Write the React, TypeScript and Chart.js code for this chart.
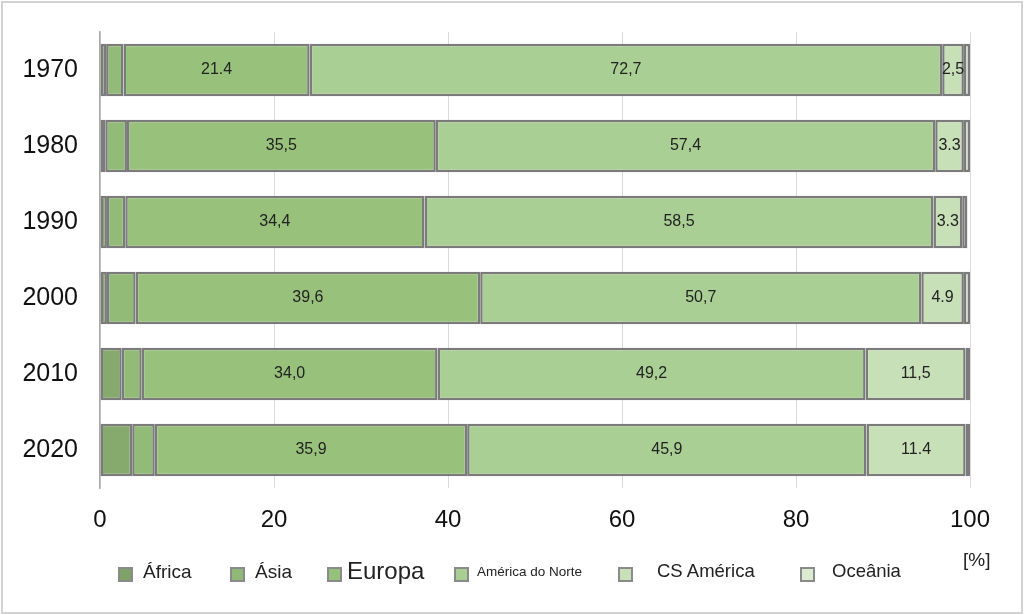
import { useEffect, useRef } from "react";
import { Chart, registerables } from "chart.js";

Chart.register(...registerables);

const years = ["1970", "1980", "1990", "2000", "2010", "2020"];
const regions = ["África", "Ásia", "Europa", "América do Norte", "CS América", "Oceânia"];

const africa = [0.7, 0.6, 0.8, 0.8, 2.5, 3.7];
const asia = [2.0, 2.5, 2.1, 3.3, 2.3, 2.6];
const europa = [21.4, 35.5, 34.4, 39.6, 34.0, 35.9];
const northAmerica = [72.7, 57.4, 58.5, 50.7, 49.2, 45.9];
const csAmerica = [2.5, 3.3, 3.3, 4.9, 11.5, 11.4];
const oceania = [0.7, 0.7, 0.6, 0.7, 0.5, 0.5];

// labels as printed in the source (mixed decimal separators)
const europaLabels = ["21.4", "35,5", "34,4", "39,6", "34,0", "35,9"];
const northAmericaLabels = ["72,7", "57,4", "58,5", "50,7", "49,2", "45,9"];
const csAmericaLabels = ["2,5", "3.3", "3.3", "4.9", "11,5", "11.4"];

const xTicks = [0, 20, 40, 60, 80, 100];

const colors = ["#86aa6e", "#92bb78", "#98c27c", "#aacf94", "#c8e0b8", "#dcebd2"];
const legendColors = ["#7fa268", "#90b977", "#95c27a", "#a8cf91", "#c7e0b6", "#dbead0"];
const legendFontSizes = [19, 19, 24, 13.5, 18.5, 18.5];
const legendSquareX = [118, 230, 327, 454, 618, 800];
const legendTextX = [143, 255, 347, 477, 657, 832];

const valueLabels = {
  id: "valueLabels",
  afterDatasetsDraw(chart: any) {
    const ctx = chart.ctx;
    ctx.save();
    ctx.font = "16px 'Liberation Sans', Arial, sans-serif";
    ctx.fillStyle = "#222";
    ctx.textAlign = "center";
    ctx.textBaseline = "middle";
    chart.data.datasets.forEach((ds: any, i: number) => {
      if (!ds.valueTexts) return;
      const meta = chart.getDatasetMeta(i);
      meta.data.forEach((bar: any, j: number) => {
        const p = bar.getProps(["x", "y", "base"], true);
        ctx.fillText(ds.valueTexts[j], (p.x + p.base) / 2, p.y);
      });
    });
    ctx.restore();
  },
};

export default function App() {
  const chartRef = useRef<HTMLCanvasElement>(null);

  useEffect(() => {
    if (!chartRef.current) return;
    const series = [africa, asia, europa, northAmerica, csAmerica, oceania];
    const texts = [null, null, europaLabels, northAmericaLabels, csAmericaLabels, null];
    const chartInstance = new Chart(chartRef.current, {
      type: "bar",
      data: {
        labels: years,
        datasets: series.map((data, i) => ({
          label: regions[i],
          data,
          backgroundColor: colors[i],
          borderColor: "#7b7b7b",
          borderWidth: 2.5,
          borderSkipped: false,
          barPercentage: 0.69,
          categoryPercentage: 1,
          valueTexts: texts[i],
        })) as any,
      },
      options: {
        indexAxis: "y",
        animation: false,
        responsive: true,
        maintainAspectRatio: false,
        layout: { padding: { left: 0, right: 54, top: 32, bottom: 0 } },
        plugins: {
          legend: { display: false },
          tooltip: { enabled: false },
        },
        scales: {
          x: {
            stacked: true,
            min: 0,
            max: 100,
            afterFit: (scale: any) => {
              scale.height = 127;
            },
            afterBuildTicks: (scale: any) => {
              scale.ticks = xTicks.map((v) => ({ value: v }));
            },
            grid: { color: "#dadada", lineWidth: 1, drawTicks: false },
            border: { display: false },
            ticks: {
              padding: 18,
              color: "#111",
              font: { size: 24, family: "'Liberation Sans', Arial, sans-serif" },
            },
          },
          y: {
            stacked: true,
            afterFit: (scale: any) => {
              scale.width = 100;
            },
            // hidden tick length keeps the labels away from the axis
            grid: { display: false, drawTicks: true, tickLength: 22 },
            border: { display: true, color: "#a9a9a9", width: 1.5 },
            ticks: {
              padding: 0,
              color: "#111",
              font: { size: 25, family: "'Liberation Sans', Arial, sans-serif" },
            },
          },
        },
      },
      plugins: [valueLabels],
    });

    return () => {
      chartInstance.destroy();
    };
  }, []);

  return (
    <div
      style={{
        position: "absolute",
        left: 0,
        top: 0,
        width: 1024,
        height: 615,
        background: "#fff",
        fontFamily: "'Liberation Sans', Arial, sans-serif",
        color: "#222",
      }}
    >
      <canvas ref={chartRef} />
      {regions.map((r, i) => (
        <div key={r}>
          <div
            style={{
              position: "absolute",
              left: legendSquareX[i],
              top: 567,
              width: 11,
              height: 11,
              background: legendColors[i],
              border: "2px solid #8a8a8a",
            }}
          />
          <div
            style={{
              position: "absolute",
              left: legendTextX[i],
              top: 573 - legendFontSizes[i] * 0.6,
              fontSize: legendFontSizes[i],
              lineHeight: 1,
              whiteSpace: "nowrap",
            }}
          >
            {r}
          </div>
        </div>
      ))}
      <div style={{ position: "absolute", left: 963, top: 550, fontSize: 19, lineHeight: 1 }}>[%]</div>
      <div
        style={{
          position: "absolute",
          left: 1,
          top: 1,
          width: 1018,
          height: 609,
          border: "2px solid #d2d2d2",
          pointerEvents: "none",
        }}
      />
    </div>
  );
}
